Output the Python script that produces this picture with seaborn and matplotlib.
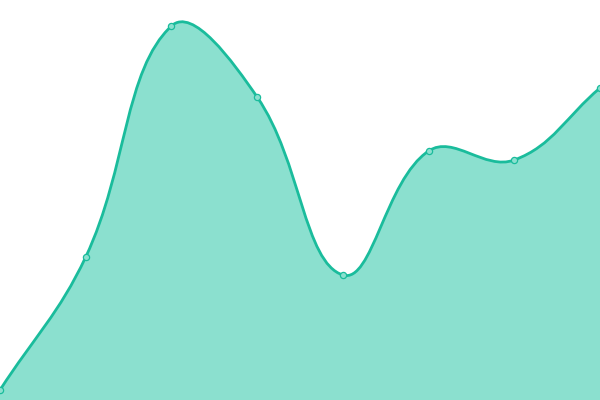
import numpy as np
import pandas as pd
import matplotlib
matplotlib.use("Agg")
import matplotlib.pyplot as plt
from matplotlib.path import Path
from matplotlib.patches import PathPatch
import seaborn as sns

# data
steps = [0, 1, 2, 3, 4, 5, 6, 7]
values = [10, 143, 374, 303, 125, 249, 240, 312]

line_color = "#1abc9c"
fill_color = "#8be0cf"
tension = 0.4

sns.set_style("white")
fig = plt.figure(figsize=(6, 4), dpi=100)
ax = fig.add_axes([0, 0, 1, 1])
ax.set_xlim(0, 7)
ax.set_ylim(0, 400)
ax.axis("off")

df = pd.DataFrame({"step": steps, "value": values})

# spline control points (same idea as chart.js splineCurve), in pixel space
pts = ax.transData.transform(np.column_stack([steps, values]).astype(float))
n = len(pts)
verts = [pts[0]]
codes = [Path.MOVETO]
cps_prev, cps_next = [], []
for i in range(n):
    prev = pts[i - 1] if i > 0 else pts[i]
    nxt = pts[i + 1] if i < n - 1 else pts[i]
    d01 = np.hypot(*(pts[i] - prev))
    d12 = np.hypot(*(nxt - pts[i]))
    tot = d01 + d12
    s01 = d01 / tot if tot else 0
    s12 = d12 / tot if tot else 0
    cps_prev.append(pts[i] - tension * s01 * (nxt - prev))
    cps_next.append(pts[i] + tension * s12 * (nxt - prev))
for i in range(n - 1):
    verts += [cps_next[i], cps_prev[i + 1], pts[i + 1]]
    codes += [Path.CURVE4] * 3

inv = ax.transData.inverted()
line_verts = inv.transform(np.array(verts))
line_path = Path(line_verts, codes)

fill_verts = np.vstack([line_verts, [[steps[-1], 0], [steps[0], 0], line_verts[0]]])
fill_codes = codes + [Path.LINETO, Path.LINETO, Path.CLOSEPOLY]
ax.add_patch(PathPatch(Path(fill_verts, fill_codes), facecolor=fill_color,
                       edgecolor="none", zorder=1))
ax.add_patch(PathPatch(line_path, facecolor="none", edgecolor=line_color,
                       linewidth=2.0, zorder=2, capstyle="round"))

sns.scatterplot(data=df, x="step", y="value", ax=ax, s=20, color=fill_color,
                edgecolor=line_color, linewidth=0.9, zorder=3, clip_on=True,
                legend=False)
ax.set_xlim(0, 7)
ax.set_ylim(0, 400)
ax.axis("off")

fig.savefig("out.png", dpi=100)
